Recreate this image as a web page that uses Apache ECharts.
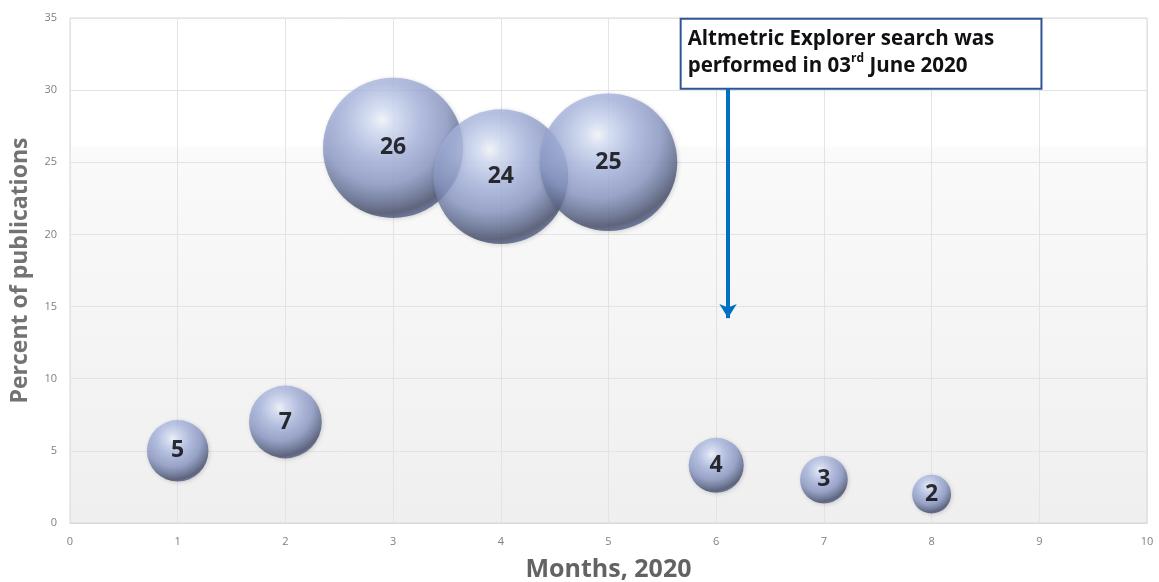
<!DOCTYPE html>
<html>
<head>
<meta charset="utf-8">
<script src="https://cdn.jsdelivr.net/npm/echarts@6/dist/echarts.min.js"></script>
<style>
  html, body { margin: 0; padding: 0; background: #ffffff; }
  #chart { width: 1159px; height: 582px; }
</style>
</head>
<body>
<div id="chart"></div>
<script>
// Share of publications by month of 2020
const months = [1, 2, 3, 4, 5, 6, 7, 8];
const percents = [5, 7, 26, 24, 25, 4, 3, 2];

// Note box corners and arrow ends, in data units
const noteBox = [[5.67, 34.95], [9.02, 30.1]];
const arrowFrom = [6.11, 30.1];
const arrowTo = [6.11, 14.2];

const chart = echarts.init(document.getElementById('chart'));

// shaded "glass ball" fill for the bubbles
const ballFill = new echarts.graphic.RadialGradient(0.42, 0.3, 0.74, [
  { offset: 0, color: '#f7faff' },
  { offset: 0.12, color: '#d6e0f8' },
  { offset: 0.38, color: '#a8b6e0' },
  { offset: 0.62, color: '#8b99c6' },
  { offset: 0.8, color: '#5e6a8f' },
  { offset: 0.9, color: '#424a66' },
  { offset: 0.97, color: '#54628f' },
  { offset: 1, color: '#8799d2' }
]);

const gridFill = new echarts.graphic.LinearGradient(0, 0, 0, 1, [
  { offset: 0, color: '#ffffff' },
  { offset: 0.25, color: '#ffffff' },
  { offset: 0.26, color: '#fafafa' },
  { offset: 1, color: '#efefef' }
]);

const font = '"Open Sans", sans-serif';
const axisText = { color: '#808080', fontSize: 11, fontFamily: font };

chart.setOption({
  animation: false,
  grid: {
    left: 70, right: 12, top: 18, bottom: 59,
    outerBoundsMode: 'none',
    show: true, backgroundColor: gridFill, borderColor: '#d9d9d9', borderWidth: 1
  },
  xAxis: {
    type: 'value', min: 0, max: 10, interval: 1,
    name: 'Months, 2020', nameLocation: 'middle', nameGap: 34,
    nameTextStyle: { color: '#636363', fontSize: 25, fontWeight: 'bold', fontFamily: font },
    axisLine: { show: true, lineStyle: { color: '#d9d9d9' } },
    axisTick: { show: false },
    axisLabel: Object.assign({ margin: 13 }, axisText),
    splitLine: { show: true, lineStyle: { color: '#e3e3e3' } }
  },
  yAxis: {
    type: 'value', min: 0, max: 35, interval: 5,
    name: 'Percent of publications', nameLocation: 'middle', nameGap: 38,
    nameTextStyle: { color: '#737373', fontSize: 23, fontWeight: 'bold', fontFamily: font },
    axisLine: { show: false },
    axisTick: { show: false },
    axisLabel: Object.assign({ margin: 13 }, axisText),
    splitLine: { show: true, lineStyle: { color: '#e3e3e3' } }
  },
  series: [
    {
      type: 'scatter',
      data: months.map((m, i) => [m, percents[i]]),
      symbol: 'circle',
      symbolSize: d => 27.5 * Math.sqrt(d[1]),
      itemStyle: {
        color: ballFill,
        shadowColor: 'rgba(0,0,0,0.2)', shadowBlur: 4, shadowOffsetX: 1, shadowOffsetY: 1
      },
      label: {
        show: true, position: 'inside',
        formatter: p => String(p.value[1]),
        color: '#000000', fontSize: 23, fontWeight: 'bold', fontFamily: font
      },
      z: 3
    },
    {
      type: 'scatter',
      data: [],
      markArea: {
        silent: true,
        itemStyle: { color: '#ffffff', borderColor: '#2f5597', borderWidth: 2 },
        label: {
          show: true, position: 'insideTopLeft', distance: 8,
          formatter: 'Altmetric Explorer search was\nperformed in 03{sup|rd} June 2020',
          color: '#111111', fontSize: 20.5, fontWeight: 'bold', lineHeight: 27,
          fontFamily: font,
          rich: {
            sup: { fontSize: 12, fontWeight: 'bold', verticalAlign: 'top', lineHeight: 27, padding: [0, 0, 8, 0], color: '#111111', fontFamily: font }
          }
        },
        data: [[{ coord: noteBox[0] }, { coord: noteBox[1] }]]
      },
      markLine: {
        silent: true,
        symbol: ['none', 'arrow'],
        symbolSize: [13, 14],
        lineStyle: { color: '#0070c0', width: 4, type: 'solid' },
        label: { show: false },
        data: [[{ coord: arrowFrom }, { coord: arrowTo }]]
      },
      z: 4
    }
  ]
});
</script>
</body>
</html>
